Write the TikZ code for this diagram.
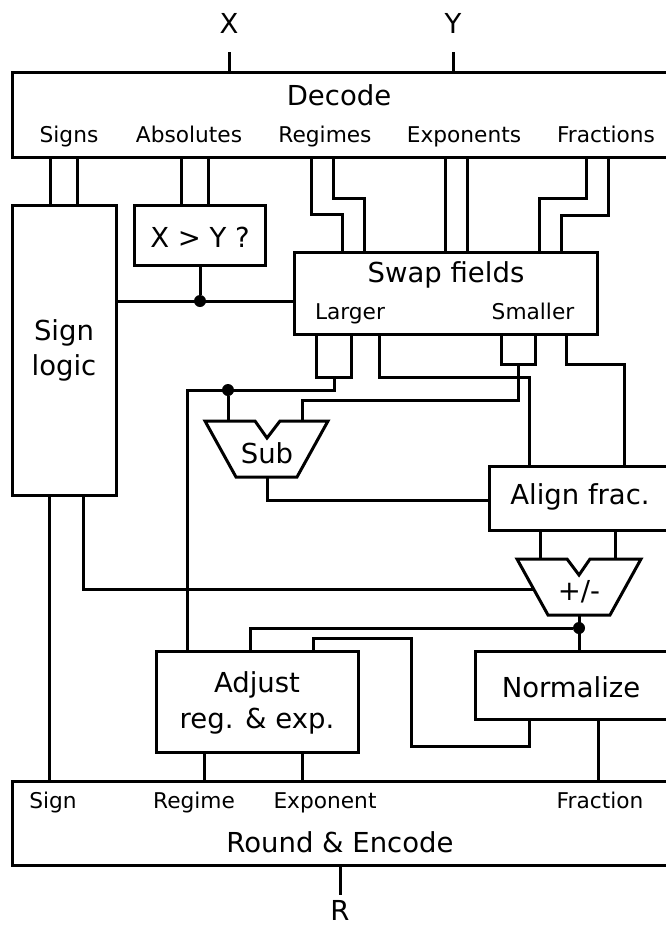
\documentclass[tikz,border=0pt]{standalone}
\usepackage{fontspec}
\setmainfont{DejaVu Sans}
\begin{document}
\begin{tikzpicture}[x=1pt,y=-1pt,
  wire/.style={line width=3pt, line join=miter},
  blk/.style={draw, line width=3pt, inner sep=0pt, outer sep=0pt, anchor=north west},
  big/.style={font=\fontsize{27.5}{33}\selectfont, inner sep=0pt},
  lab/.style={font=\fontsize{21.7}{26}\selectfont, inner sep=0pt, anchor=base},
  jdot/.style={circle, fill, inner sep=0pt, minimum size=12pt}]
\useasboundingbox (0,0) rectangle (666,926);
\clip (0,0) rectangle (666,926);
% blocks
\node[blk, minimum width=657pt, minimum height=85pt] (dec) at (12,72) {};
\node[blk, minimum width=104pt, minimum height=290pt] (sl) at (12,205) {};
\node[blk, minimum width=131pt, minimum height=60pt] (cmp) at (134,205) {};
\node[blk, minimum width=303pt, minimum height=82pt] (swp) at (294,252) {};
\node[blk, minimum width=182pt, minimum height=64pt] (al) at (489,466) {};
\node[blk, minimum width=202pt, minimum height=101pt] (adj) at (156,651) {};
\node[blk, minimum width=195pt, minimum height=68pt] (nrm) at (475,651) {};
\node[blk, minimum width=657pt, minimum height=84pt] (rnd) at (12,781) {};
% trapezoids
\draw[wire] (205,421) -- (255,421) -- (267,438) -- (280,421) -- (328,421) -- (297,477) -- (236,477) -- cycle;
\draw[wire] (517,559) -- (567,559) -- (579,575) -- (590,559) -- (641,559) -- (610,615) -- (548,615) -- cycle;
\coordinate (subL) at (228,421);
\coordinate (subR) at (302,421);
\coordinate (subO) at (267,477);
\coordinate (pmL) at (540,559);
\coordinate (pmR) at (615,559);
\coordinate (pmS) at (533,589);
\coordinate (pmO) at (579,615);
% texts
\node[big] (xl) at (229,23) {X};
\node[big] (yl) at (453,23) {Y};
\node[big] (tdec) at (339,95) {Decode};
\node[lab] (tsg) at (69,142) {Signs};
\node[lab] (tab) at (189,142) {Absolutes};
\node[lab] (trg) at (325,142) {Regimes};
\node[lab] (tex) at (464,142) {Exponents};
\node[lab] (tfr) at (606,142) {Fractions};
\node[big] (tcmp) at (200,237) {X > Y ?};
\node[big, anchor=base] (tsl1) at (64,340) {Sign};
\node[big, anchor=base] (tsl2) at (64,375) {logic};
\node[big] (tswp) at (446,275) {Swap fields};
\node[lab] (tlg) at (350,319) {Larger};
\node[lab] (tsm) at (533,319) {Smaller};
\node[big] (tsub) at (267,453) {Sub};
\node[big] (tal) at (580,497) {Align frac.};
\node[big] (tpm) at (579,592) {+/-};
\node[big, anchor=base] (tadj1) at (257,692) {Adjust};
\node[big, anchor=base] (tadj2) at (257,728) {reg. \& exp.};
\node[big] (tnrm) at (571,687) {Normalize};
\node[lab] (os) at (53,808) {Sign};
\node[lab] (orr) at (194,808) {Regime};
\node[lab] (oe) at (325,808) {Exponent};
\node[lab] (of) at (600,808) {Fraction};
\node[big] (trnd) at (340,842) {Round \& Encode};
\node[big, anchor=base] (rl) at (340,920) {R};
% inputs / output
\coordinate (xw) at (229,52);
\coordinate (yw) at (453,52);
\coordinate (rw) at (340,895);
\draw[wire] (xw) -- (xw |- dec.north);
\draw[wire] (yw) -- (yw |- dec.north);
\draw[wire] (rnd.south -| rw) -- (rw);
% decode outputs
\draw[wire] (dec.south -| 50,0) -- (sl.north -| 50,0);
\draw[wire] (dec.south -| 77,0) -- (sl.north -| 77,0);
\draw[wire] (dec.south -| 181,0) -- (cmp.north -| 181,0);
\draw[wire] (dec.south -| 208,0) -- (cmp.north -| 208,0);
\draw[wire] (dec.south -| 311,0) -- (311,214) -- (342,214) -- (swp.north -| 342,0);
\draw[wire] (dec.south -| 333,0) -- (333,198) -- (364,198) -- (swp.north -| 364,0);
\draw[wire] (dec.south -| 445,0) -- (swp.north -| 445,0);
\draw[wire] (dec.south -| 467,0) -- (swp.north -| 467,0);
\draw[wire] (dec.south -| 586,0) -- (586,198) -- (539,198) -- (swp.north -| 539,0);
\draw[wire] (dec.south -| 608,0) -- (608,215) -- (561,215) -- (swp.north -| 561,0);
% comparator
\node[jdot] (d1) at (200,301) {};
\draw[wire] (cmp.south -| d1) -- (d1);
\draw[wire] (sl.east |- d1) -- (swp.west |- d1);
% swap outputs
\draw[wire] (swp.south -| 316,0) -- (316,377) -- (351,377) -- (swp.south -| 351,0);
\node[jdot] (d2) at (228,390) {};
\draw[wire] (334,377) -- (334,390) -- (187,390) -- (adj.north -| 187,0);
\draw[wire] (d2) -- (subL);
\draw[wire] (swp.south -| 379,0) -- (379,377) -- (529,377) -- (al.north -| 529,0);
\draw[wire] (swp.south -| 501,0) -- (501,364) -- (535,364) -- (swp.south -| 535,0);
\draw[wire] (518,364) -- (518,400) -- (302,400) -- (subR);
\draw[wire] (swp.south -| 566,0) -- (566,364) -- (624,364) -- (al.north -| 624,0);
% sub / align
\draw[wire] (subO) -- (267,500) -- (al.west |- 0,500);
\draw[wire] (al.south -| pmL) -- (pmL);
\draw[wire] (al.south -| pmR) -- (pmR);
% sign logic
\draw[wire] (sl.south -| 83,0) -- (83,589) -- (pmS);
\draw[wire] (sl.south -| 49,0) -- (rnd.north -| 49,0);
% adder output
\node[jdot] (d3) at (579,628) {};
\draw[wire] (pmO) -- (nrm.north -| pmO);
\draw[wire] (d3) -- (250,628) -- (adj.north -| 250,0);
% normalize
\draw[wire] (nrm.south -| 529,0) -- (529,746) -- (411,746) -- (411,638) -- (313,638) -- (adj.north -| 313,0);
\draw[wire] (nrm.south -| 598,0) -- (rnd.north -| 598,0);
% adjust
\draw[wire] (adj.south -| 204,0) -- (rnd.north -| 204,0);
\draw[wire] (adj.south -| 302,0) -- (rnd.north -| 302,0);
\end{tikzpicture}
\end{document}
